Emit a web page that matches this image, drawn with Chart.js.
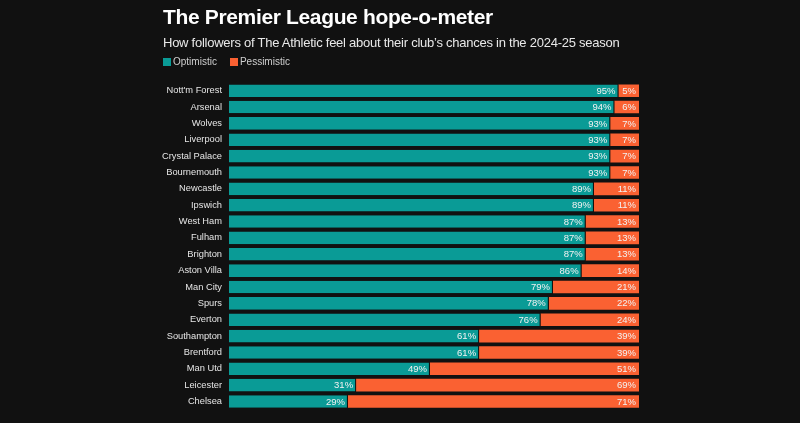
<!DOCTYPE html>
<html><head><meta charset="utf-8">
<script src="https://cdn.jsdelivr.net/npm/chart.js@4"></script>
<style>
html,body{margin:0;padding:0;background:#111111;}
#wrap{position:relative;width:800px;height:423px;overflow:hidden;background:#111111;font-family:"Liberation Sans",Arial,sans-serif;}
#title{position:absolute;left:163px;top:5px;color:#fff;font-weight:bold;font-size:21px;letter-spacing:-0.35px;}
#sub{position:absolute;left:163px;top:35px;color:#e8e8e8;font-size:13px;letter-spacing:-0.25px;}
#legend{position:absolute;left:163px;top:56px;color:#cfcfcf;font-size:10px;}
.sw{display:inline-block;width:8px;height:8px;vertical-align:-1px;margin-right:2px;}
canvas{position:absolute;left:0;top:0;}
</style></head>
<body><div id="wrap">
<canvas id="c" width="800" height="423"></canvas>
<div id="title">The Premier League hope-o-meter</div>
<div id="sub">How followers of The Athletic feel about their club’s chances in the 2024-25 season</div>
<div id="legend"><span class="sw" style="background:#0a9b96"></span>Optimistic<span style="display:inline-block;width:13px"></span><span class="sw" style="background:#fa6132"></span>Pessimistic</div>
</div>
<script>
const clubs = ["Nott'm Forest","Arsenal","Wolves","Liverpool","Crystal Palace","Bournemouth","Newcastle","Ipswich","West Ham","Fulham","Brighton","Aston Villa","Man City","Spurs","Everton","Southampton","Brentford","Man Utd","Leicester","Chelsea"];
const optimistic = [95,94,93,93,93,93,89,89,87,87,87,86,79,78,76,61,61,49,31,29];
const pessimistic = [5,6,7,7,7,7,11,11,13,13,13,14,21,22,24,39,39,51,69,71];

const labelPlugin = {
  id:'barLabels',
  afterDatasetsDraw(chart){
    const ctx = chart.ctx;
    ctx.save();
    ctx.font = '9.5px "Liberation Sans", Arial, sans-serif';
    ctx.fillStyle = '#f2f2f2';
    ctx.textAlign = 'right';
    ctx.textBaseline = 'middle';
    chart.data.datasets.forEach((ds,di)=>{
      const meta = chart.getDatasetMeta(di);
      meta.data.forEach((bar,i)=>{
        ctx.fillText(ds.data[i]+'%', bar.x - 3, bar.y + 0.5);
      });
    });
    ctx.restore();
  }
};

new Chart(document.getElementById('c'),{
  type:'bar',
  data:{labels:clubs,datasets:[
    {label:'Optimistic',data:optimistic,backgroundColor:'#0a9b96',borderColor:'#111111',borderWidth:{right:1},borderSkipped:false,barPercentage:0.77,categoryPercentage:1},
    {label:'Pessimistic',data:pessimistic,backgroundColor:'#fa6132',borderWidth:0,barPercentage:0.77,categoryPercentage:1}
  ]},
  options:{
    indexAxis:'y',responsive:false,animation:false,
    layout:{padding:{left:0,right:161,top:82.5,bottom:13.3}},
    plugins:{legend:{display:false},tooltip:{enabled:false}},
    scales:{
      x:{stacked:true,min:0,max:100,display:false},
      y:{stacked:true,grid:{display:false,drawTicks:false},border:{display:false},
        ticks:{color:'#e6e6e6',padding:7,font:{family:'"Liberation Sans", Arial, sans-serif',size:9.3}},
        afterFit(s){s.width=229;}}
    }
  },
  plugins:[labelPlugin]
});
</script>
</body></html>
